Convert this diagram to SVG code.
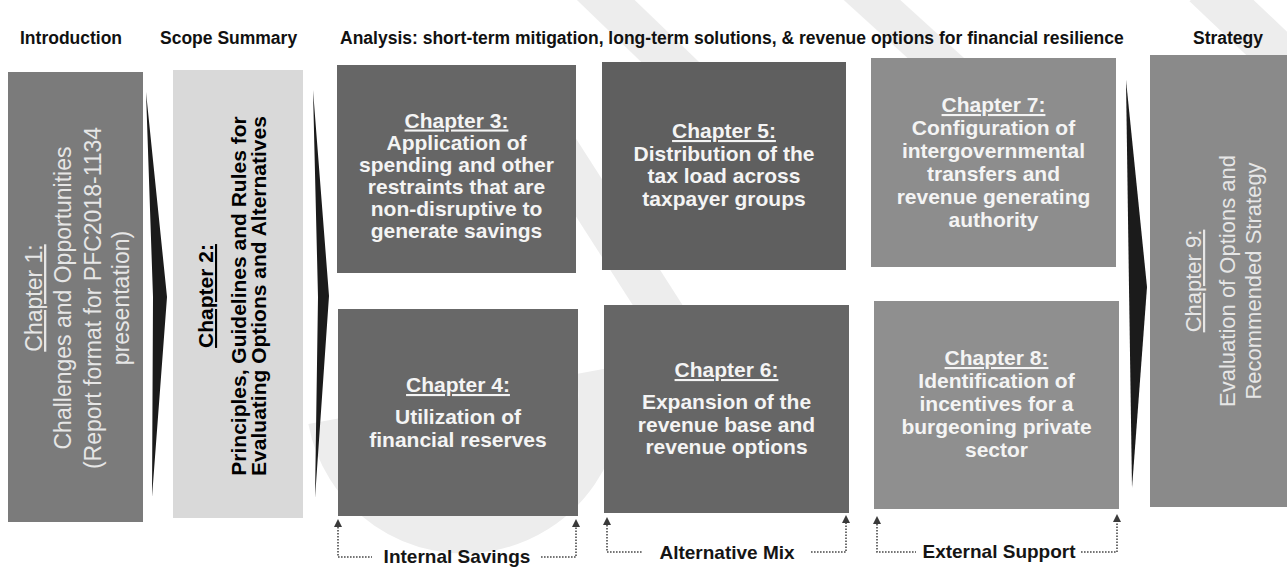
<svg xmlns="http://www.w3.org/2000/svg" width="1287" height="569" viewBox="0 0 1287 569">
  <defs>
    <style>
      text { font-family: "Liberation Sans", Arial, sans-serif; }
      .hdr { font-size: 17.5px; font-weight: bold; fill: #111; }
      .lbl { font-size: 21px; font-weight: bold; fill: #f4f4f4; text-anchor: middle; }
      .dark { fill: #000; }
      .ul { text-decoration: underline; }
      .vlbl { font-size: 23px; fill: #e6e6e6; text-anchor: middle; }
      .chev { fill: #1b1b1b; }
      .dots { fill: none; stroke: #4a4a4a; stroke-width: 1.6; stroke-dasharray: 1.6 1.4; }
      .grp { font-size: 19px; font-weight: bold; fill: #151515; text-anchor: middle; }
      .wm { fill: none; stroke: #ededed; }
    </style>
    <marker id="tip" viewBox="0 0 10 10" refX="0" refY="5" markerUnits="userSpaceOnUse" markerWidth="9" markerHeight="8" orient="auto-start-reverse">
      <path d="M0,0 L10,5 L0,10 z" fill="#3a3a3a"/>
    </marker>
  </defs>

  <rect width="1287" height="569" fill="#ffffff"/>

  <!-- faint background emblem -->
  <g id="watermark" class="wm">
    <line x1="585" y1="-20" x2="720" y2="110" stroke-width="40"/>
    <line x1="850" y1="-20" x2="960" y2="80" stroke-width="38"/>
    <line x1="1205" y1="-15" x2="1300" y2="75" stroke-width="45"/>
    <line x1="520" y1="90" x2="680" y2="340" stroke-width="42"/>
    <path d="M598,370 A135,135 0 1 1 330,420" stroke-width="44"/>
  </g>

  <!-- column headings -->
  <g id="headings">
    <text class="hdr" x="20" y="44">Introduction</text>
    <text class="hdr" x="160" y="44">Scope Summary</text>
    <text class="hdr" x="340" y="44">Analysis: short-term mitigation, long-term solutions, &amp; revenue options for financial resilience</text>
    <text class="hdr" x="1193" y="44">Strategy</text>
  </g>

  <!-- chapter 1 -->
  <g id="ch1">
    <rect x="8" y="72" width="135" height="450" fill="#7b7b7b"/>
    <g transform="rotate(-90)">
      <text class="vlbl ul" x="-298" y="42">Chapter 1:</text>
      <text class="vlbl" x="-298" y="71">Challenges and Opportunities</text>
      <text class="vlbl" x="-298" y="101">(Report format for PFC2018-1134</text>
      <text class="vlbl" x="-298" y="129">presentation)</text>
    </g>
  </g>

  <!-- chapter 2 -->
  <g id="ch2">
    <rect x="173" y="70" width="130" height="448" fill="#d9d9d9"/>
    <g transform="rotate(-90)">
      <text class="lbl dark ul" x="-296" y="213">Chapter 2:</text>
      <text class="lbl dark" x="-296" y="246">Principles, Guidelines and Rules for</text>
      <text class="lbl dark" x="-296" y="266">Evaluating Options and Alternatives</text>
    </g>
  </g>

  <!-- chapter 3 -->
  <g id="ch3">
    <rect x="337" y="65" width="239" height="208" fill="#666666"/>
    <text class="lbl ul" x="456.5" y="127.5">Chapter 3:</text>
    <text class="lbl" x="456.5" y="149.5">Application of</text>
    <text class="lbl" x="456.5" y="171.5">spending and other</text>
    <text class="lbl" x="456.5" y="193.5">restraints that are</text>
    <text class="lbl" x="456.5" y="215.5">non-disruptive to</text>
    <text class="lbl" x="456.5" y="237.5">generate savings</text>
  </g>

  <!-- chapter 4 -->
  <g id="ch4">
    <rect x="338" y="309" width="240" height="207" fill="#686868"/>
    <text class="lbl ul" x="458" y="392">Chapter 4:</text>
    <text class="lbl" x="458" y="424">Utilization of</text>
    <text class="lbl" x="458" y="446.5">financial reserves</text>
  </g>

  <!-- chapter 5 -->
  <g id="ch5">
    <rect x="602" y="62" width="244" height="208" fill="#5f5f5f"/>
    <text class="lbl ul" x="724" y="138">Chapter 5:</text>
    <text class="lbl" x="724" y="160.5">Distribution of the</text>
    <text class="lbl" x="724" y="183">tax load across</text>
    <text class="lbl" x="724" y="205.5">taxpayer groups</text>
  </g>

  <!-- chapter 6 -->
  <g id="ch6">
    <rect x="604" y="305" width="245" height="208" fill="#666666"/>
    <text class="lbl ul" x="726.5" y="377">Chapter 6:</text>
    <text class="lbl" x="726.5" y="409">Expansion of the</text>
    <text class="lbl" x="726.5" y="432">revenue base and</text>
    <text class="lbl" x="726.5" y="454">revenue options</text>
  </g>

  <!-- chapter 7 -->
  <g id="ch7">
    <rect x="871" y="58" width="245" height="209" fill="#8d8d8d"/>
    <text class="lbl ul" x="993.5" y="112">Chapter 7:</text>
    <text class="lbl" x="993.5" y="135">Configuration of</text>
    <text class="lbl" x="993.5" y="158">intergovernmental</text>
    <text class="lbl" x="993.5" y="181">transfers and</text>
    <text class="lbl" x="993.5" y="204">revenue generating</text>
    <text class="lbl" x="993.5" y="227">authority</text>
  </g>

  <!-- chapter 8 -->
  <g id="ch8">
    <rect x="874" y="301" width="245" height="208" fill="#8f8f8f"/>
    <text class="lbl ul" x="996.5" y="365">Chapter 8:</text>
    <text class="lbl" x="996.5" y="388">Identification of</text>
    <text class="lbl" x="996.5" y="411">incentives for a</text>
    <text class="lbl" x="996.5" y="434">burgeoning private</text>
    <text class="lbl" x="996.5" y="457">sector</text>
  </g>

  <!-- chapter 9 -->
  <g id="ch9">
    <rect x="1150" y="55" width="137" height="452" fill="#8a8a8a"/>
    <g transform="rotate(-90)">
      <text class="vlbl ul" x="-281" y="1201" style="font-size:22px">Chapter 9:</text>
      <text class="vlbl" x="-281" y="1235" style="font-size:22px">Evaluation of Options and</text>
      <text class="vlbl" x="-281" y="1261" style="font-size:22px">Recommended Strategy</text>
    </g>
  </g>

  <!-- connectors: flow chevrons and grouping brackets -->
  <g id="connectors">
    <polygon class="chev" points="146,92 167,297 152,497 153,297"/>
    <polygon class="chev" points="313,90 329,296 315,498 318,297"/>
    <polygon class="chev" points="1126,80 1147,287 1132,488 1129,287"/>

    <path class="dots" d="M338,527 V557 H372" marker-start="url(#tip)"/>
    <path class="dots" d="M541,557 H576 V527" marker-end="url(#tip)"/>
    <path class="dots" d="M607,525 V552 H643" marker-start="url(#tip)"/>
    <path class="dots" d="M811,552 H846 V523" marker-end="url(#tip)"/>
    <path class="dots" d="M877,524 V552 H916" marker-start="url(#tip)"/>
    <path class="dots" d="M1081,552 H1117 V522" marker-end="url(#tip)"/>

    <text class="grp" x="457" y="563">Internal Savings</text>
    <text class="grp" x="727" y="559">Alternative Mix</text>
    <text class="grp" x="999" y="558">External Support</text>
  </g>
</svg>
